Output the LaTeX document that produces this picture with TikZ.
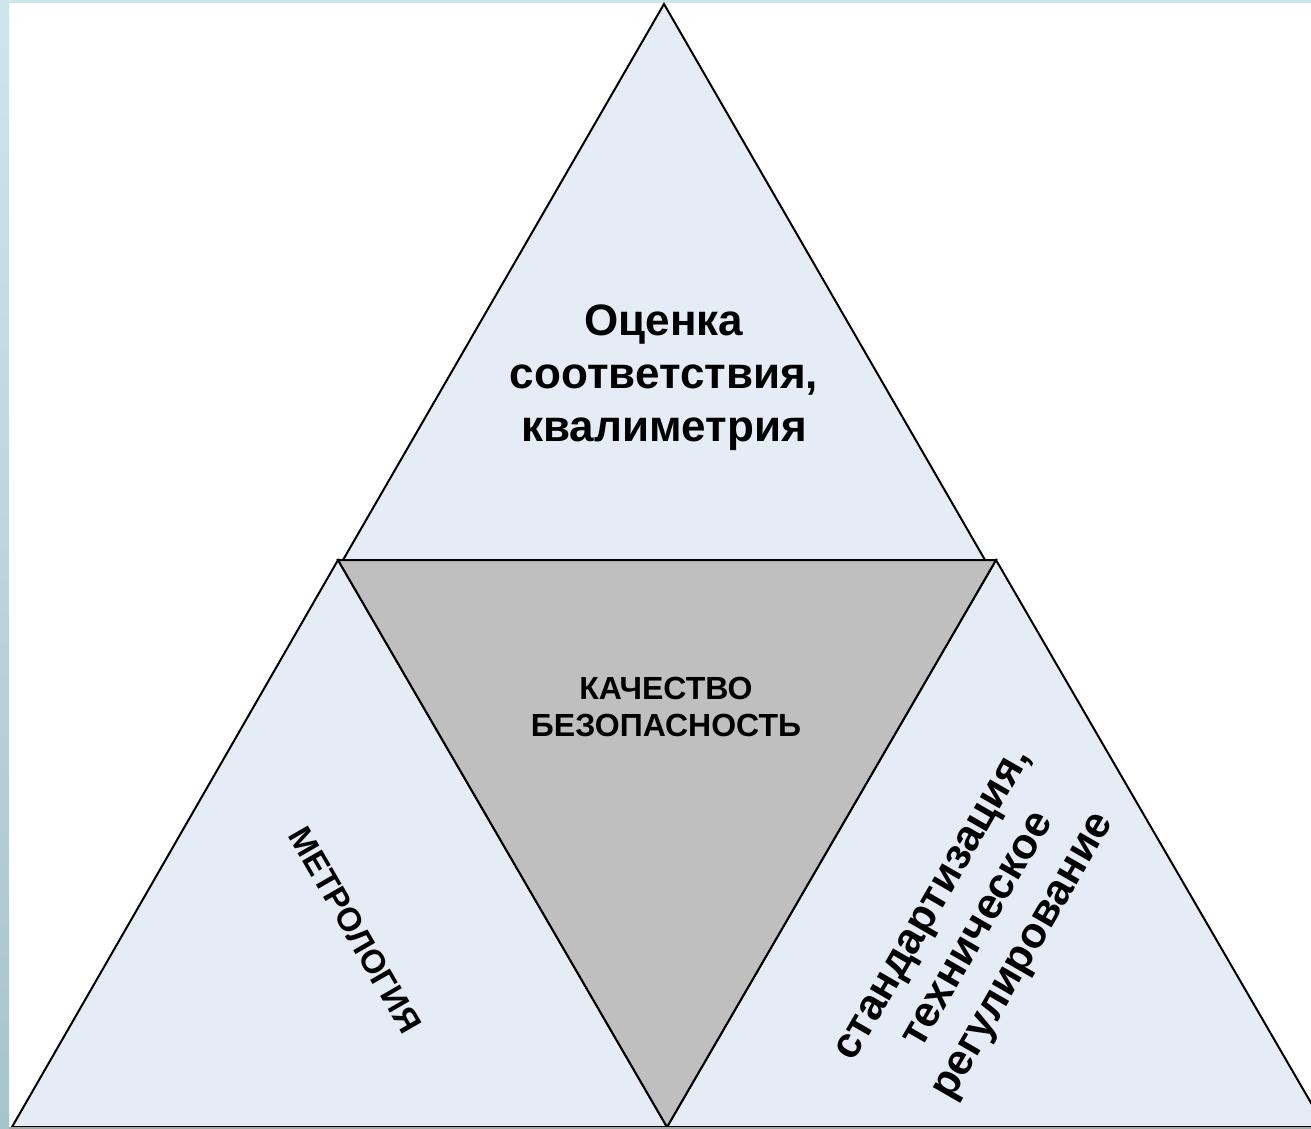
\documentclass[tikz,border=0pt]{standalone}
\usepackage{fontspec}
\setmainfont{Liberation Sans}
\begin{document}
\begin{tikzpicture}[x=1pt,y=-1pt,
  lightface/.style={fill=lightfill,draw=black,line width=2pt,line join=miter},
  grayface/.style={fill=grayfill,draw=black,line width=2pt},
  bigtext/.style={align=center,font=\fontsize{44}{53}\selectfont\bfseries,inner sep=0pt},
  smalltext/.style={align=center,font=\fontsize{32}{37}\selectfont\bfseries,inner sep=0pt}]
\definecolor{lightfill}{RGB}{230,236,246}
\definecolor{grayfill}{RGB}{191,191,191}
\definecolor{stripcol}{RGB}{204,230,236}
\definecolor{stripdark}{RGB}{168,196,203}
\useasboundingbox (0,0) rectangle (1311,1129);
\fill[white] (0,0) rectangle (1311,1129);
% frame strips
\shade[top color=stripcol,bottom color=stripdark] (0,0) rectangle (9,1129);
\fill[stripcol] (0,0) rectangle (1311,3);
% corner points
\coordinate (topA) at (664,4);
\coordinate (topL) at (343,560);
\coordinate (topR) at (985,560);
\coordinate (gL) at (338,560);
\coordinate (gR) at (996,560);
\coordinate (gB) at (667,1127);
\coordinate (lB) at (12,1127);
\coordinate (rB) at (1325,1127);
\begin{scope}
\clip (9,3) rectangle (1311,1129);
\filldraw[lightface] (topL) -- (topA) -- (topR) -- cycle;
\filldraw[lightface] (gL) -- (lB) -- (gB) -- cycle;
\filldraw[lightface] (gR) -- (gB) -- (rB) -- cycle;
\filldraw[grayface] (gL) -- (gR) -- (gB) -- cycle;
\draw[black,line width=2.6pt] (gL) -- (gR);
\draw[gray!70,line width=3pt] (9,1128) -- (1311,1128);
\end{scope}
% texts
\node[bigtext] (top) at (664,378) {Оценка\\соответствия,\\квалиметрия};
\node[smalltext] (mid) at (666,707) {КАЧЕСТВО\\БЕЗОПАСНОСТЬ};
\node[smalltext,rotate=-60,font=\fontsize{33}{38}\selectfont\bfseries] (metro) at (355,930) {МЕТРОЛОГИЯ};
\node[bigtext,rotate=60,font=\fontsize{43}{52}\selectfont\bfseries] (stand) at (981,932) {стандартизация,\\техническое\\регулирование};
\end{tikzpicture}
\end{document}
